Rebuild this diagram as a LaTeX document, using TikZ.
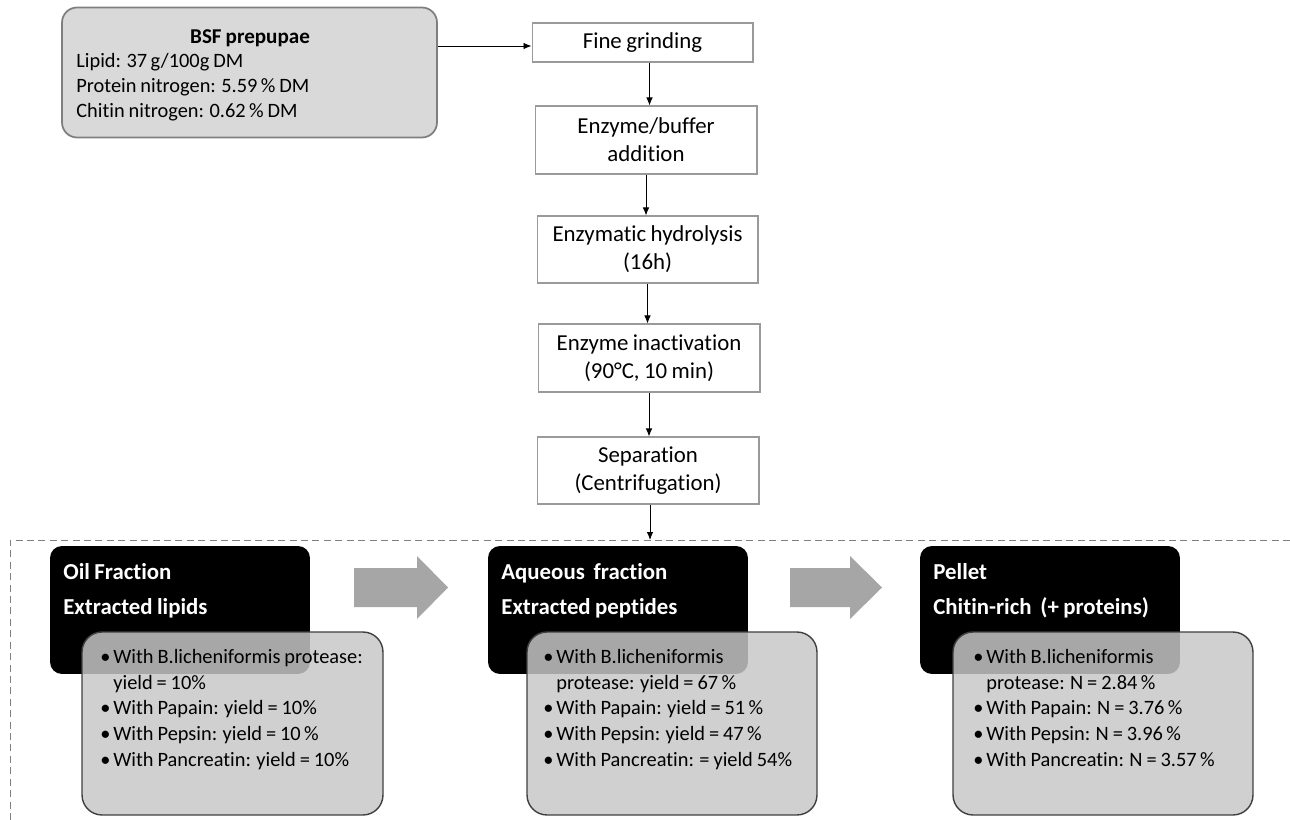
\documentclass[tikz,border=0pt]{standalone}
\usepackage{fontspec}
\setmainfont{Carlito}[Ligatures=NoCommon, WordSpace=0.85]
\usetikzlibrary{arrows.meta}
\definecolor{bsffill}{HTML}{D9D9D9}
\definecolor{bsfedge}{HTML}{7F7F7F}
\definecolor{stepedge}{HTML}{9A9A9A}
\definecolor{grayfill}{HTML}{C8C8C8}
\definecolor{boxedge}{HTML}{404040}
\definecolor{arrowgray}{HTML}{A6A6A6}
\definecolor{dashgray}{HTML}{7F7F7F}
\newcommand\bul{\makebox[7.4pt][l]{\textbullet}}
\newcommand\ind{\hspace*{7.4pt}}
\begin{document}
\begin{tikzpicture}[x=0.02cm,y=-0.02cm,
  stepbox/.style={draw=stepedge, line width=0.6pt, fill=white, align=center,
    font=\fontsize{13}{16}\selectfont, inner sep=0pt},
  arr/.style={-{Latex[length=0.16cm,width=0.13cm]}, line width=0.5pt},
  blackbox/.style={fill=black, rounded corners=0.24cm, inner sep=0pt,
    minimum height=2.56cm, minimum width=5.2cm},
  graybox/.style={draw=boxedge, line width=0.8pt, fill=grayfill, fill opacity=0.84,
    rounded corners=0.4cm, minimum height=3.66cm, inner sep=0pt},
  title/.style={anchor=base west, text=white, font=\fontsize{13}{16}\selectfont\bfseries, inner sep=0pt},
  blist/.style={anchor=north west, align=left, inner sep=0pt,
    font=\fontsize{11.6}{14.6}\selectfont, text=black},
  bsftext/.style={anchor=base west, inner sep=0pt, font=\fontsize{11.6}{14}\selectfont},
  dashline/.style={draw=dashgray, line width=0.5pt, dash pattern=on 4pt off 2.5pt},
  blockarrow/.style={fill=arrowgray}
]
\fill[white] (0,0) rectangle (1290,820);
\useasboundingbox (0,0) rectangle (1290,820);

% input box
\node[draw=bsfedge, line width=1pt, fill=bsffill, rounded corners=0.3cm,
  minimum width=7.5cm, minimum height=2.6cm, inner sep=0pt] (bsf) at (249.5,72.5) {};
\node[anchor=base, inner sep=0pt, font=\fontsize{12}{14}\selectfont\bfseries] (bsft) at (250,44) {BSF prepupae};
\node[bsftext] (bsf1) at (76,68) {Lipid: 37\,g/100g DM};
\node[bsftext] (bsf2) at (76,93) {Protein nitrogen: 5.59\,\% DM};
\node[bsftext] (bsf3) at (76,118) {Chitin nitrogen: 0.62\,\% DM};

% process steps
\node[stepbox, minimum width=4.42cm, minimum height=0.78cm] (fg) at (642.5,42.5) {Fine grinding};
\node[stepbox, minimum width=4.44cm, minimum height=1.36cm] (eb) at (646,140) {Enzyme/buffer\\addition};
\node[stepbox, minimum width=4.42cm, minimum height=1.34cm] (eh) at (647.5,249.5) {Enzymatic hydrolysis\\(16h)};
\node[stepbox, minimum width=4.44cm, minimum height=1.36cm] (ei) at (649,358) {Enzyme inactivation\\(90°C, 10 min)};
\node[stepbox, minimum width=4.44cm, minimum height=1.34cm] (sep) at (648,470.5) {Separation\\(Centrifugation)};

\draw[arr] ([yshift=-0.07cm]bsf.east |- fg.west) -- ([yshift=-0.07cm]fg.west);
\draw[arr] ([xshift=0.14cm]fg.south) -- ([xshift=0.14cm]fg.south |- eb.north);
\draw[arr] (eb.south) -- (eb.south |- eh.north);
\draw[arr] (eh.south) -- (eh.south |- ei.north);
\draw[arr] (ei.south) -- (ei.south |- sep.north);
\coordinate (sepend) at (650,540);
\draw[arr] (sep.south -| sepend) -- (sepend);

% dashed frame
\draw[dashline] (10,820) -- (10,540) -- (1290,540);

% block arrows
\fill[blockarrow] (354,568) -- (417,568) -- (417,556) -- (448,587.5) -- (417,619) -- (417,607) -- (354,607) -- cycle;
\fill[blockarrow] (790,568) -- (850,568) -- (850,556) -- (882,587.5) -- (850,619) -- (850,607) -- (790,607) -- cycle;

% fraction boxes
\node[blackbox] (oilb) at (180,610) {};
\node[blackbox] (aqb) at (618,610) {};
\node[blackbox] (pelb) at (1050,610) {};

\node[title] (oilt1) at (63,579) {Oil Fraction};
\node[title] (oilt2) at (63,614) {Extracted lipids};
\node[title] (aqt1) at (501,579) {Aqueous~ fraction};
\node[title] (aqt2) at (501,614) {Extracted peptides};
\node[title] (pelt1) at (933,579) {Pellet};
\node[title] (pelt2) at (933,614) {Chitin-rich~ (+ proteins)};

\node[graybox, minimum width=6.02cm] (oilg) at (232.5,723.5) {};
\node[graybox, minimum width=5.8cm] (aqg) at (672,723.5) {};
\node[graybox, minimum width=6.0cm] (pelg) at (1103,723.5) {};

\node[blist] (oill) at (100,649) {\bul With B.licheniformis protease:\\
\ind yield = 10\%\\
\bul With Papain: yield = 10\%\\
\bul With Pepsin: yield = 10\,\%\\
\bul With Pancreatin: yield = 10\%};
\node[blist] (aql) at (543,649) {\bul With B.licheniformis\\
\ind protease: yield = 67\,\%\\
\bul With Papain: yield = 51\,\%\\
\bul With Pepsin: yield = 47\,\%\\
\bul With Pancreatin: = yield 54\%};
\node[blist] (pell) at (973,649) {\bul With B.licheniformis\\
\ind protease: N = 2.84\,\%\\
\bul With Papain: N = 3.76\,\%\\
\bul With Pepsin: N = 3.96\,\%\\
\bul With Pancreatin: N = 3.57\,\%};
\end{tikzpicture}
\end{document}
